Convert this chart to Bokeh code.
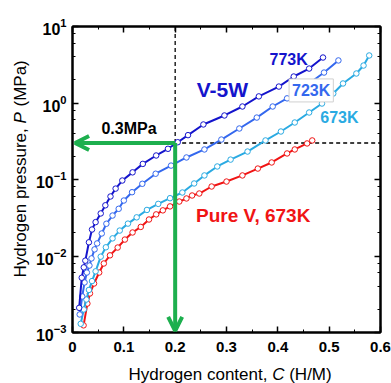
import math
from bokeh.plotting import figure
from bokeh.layouts import row, column
from bokeh.models import (LinearAxis, LogAxis, Range1d, Label, Arrow, OpenHead,
                          FixedTicker, LogTicker)
from bokeh.core.properties import value
from bokeh.embed import file_html
from bokeh.resources import INLINE

# ---------------- data ----------------
# V-5W, 773K
c773 = [0.013, 0.018, 0.022, 0.025, 0.032, 0.038, 0.045, 0.055, 0.064, 0.074, 0.084,
        0.097, 0.117, 0.137, 0.163, 0.186, 0.205, 0.225, 0.255, 0.296, 0.331, 0.363,
        0.402, 0.431, 0.461, 0.488]
p773 = [0.0021, 0.0052, 0.0071, 0.0087, 0.0151, 0.0222, 0.0277, 0.036, 0.046, 0.060, 0.076,
        0.097, 0.124, 0.160, 0.206, 0.252, 0.307, 0.38, 0.524, 0.687, 0.90, 1.22,
        1.64, 2.22, 2.82, 3.93]
# V-5W, 723K
c723 = [0.014, 0.019, 0.0235, 0.028, 0.033, 0.037, 0.043, 0.048, 0.057, 0.066, 0.078,
        0.090, 0.100, 0.116, 0.136, 0.162, 0.192, 0.222, 0.257, 0.290, 0.325, 0.359,
        0.390, 0.418, 0.453, 0.490, 0.518]
p723 = [0.00172, 0.00296, 0.00451, 0.00608, 0.0075, 0.0093, 0.0122, 0.0146, 0.0197, 0.0264, 0.0338,
        0.0414, 0.0531, 0.0682, 0.0879, 0.119, 0.152, 0.194, 0.247, 0.333, 0.464, 0.645,
        0.90, 1.15, 1.64, 2.5, 3.6]
# V-5W, 673K
c673 = [0.016, 0.022, 0.027, 0.032, 0.038, 0.045, 0.055, 0.065, 0.078, 0.092, 0.108, 0.125,
        0.145, 0.167, 0.190, 0.214, 0.237, 0.257, 0.282, 0.308, 0.341, 0.376, 0.406, 0.433,
        0.461, 0.486, 0.508, 0.527, 0.553, 0.567, 0.578]
p673 = [0.0013, 0.0020, 0.0027, 0.0036, 0.0047, 0.0063, 0.0098, 0.0130, 0.0170, 0.0215,
        0.0265, 0.0320, 0.0400, 0.0480, 0.0570, 0.0676, 0.0887, 0.113, 0.148, 0.182, 0.232,
        0.324, 0.424, 0.556, 0.751, 0.984, 1.33, 1.80, 2.43, 3.09, 4.18]
# Pure V, 673K
cV = [0.0216, 0.029, 0.034, 0.042, 0.052, 0.061, 0.073, 0.088, 0.102, 0.117, 0.133, 0.149,
      0.163, 0.176, 0.190, 0.208, 0.222, 0.233, 0.247, 0.271, 0.300, 0.331, 0.361, 0.388,
      0.418, 0.433, 0.457, 0.467]
pV = [0.00124, 0.00239, 0.00324, 0.00437, 0.00608, 0.00798, 0.0102, 0.0129, 0.0164, 0.0203,
      0.0240, 0.0300, 0.0350, 0.0395, 0.0445, 0.0515, 0.0565, 0.0618, 0.0656, 0.081, 0.094,
      0.113, 0.139, 0.167, 0.219, 0.247, 0.296, 0.324]

x_ticks = [0.0, 0.1, 0.2, 0.3, 0.4, 0.5, 0.6]
x_tick_labels = ["0", "0.1", "0.2", "0.3", "0.4", "0.5", "0.6"]
x_minor = [0.05, 0.15, 0.25, 0.35, 0.45, 0.55]

marker_C = 0.2   # hydrogen content read at 0.3 MPa
marker_P = 0.3   # MPa

C_DARK = "#1414CC"
C_MED = "#3468EE"
C_CYAN = "#2AAAE2"
C_RED = "#F01414"
C_GREEN = "#1DAF4E"

FONT = "Liberation Sans"

LEFT_W = 30
BOTTOM_H = 23

p = figure(width=391 - LEFT_W, height=383 - BOTTOM_H, x_range=Range1d(0, 0.6),
           y_range=Range1d(1e-3, 10), y_axis_type="log", output_backend="svg",
           toolbar_location=None, min_border_left=72 - LEFT_W, min_border_top=26,
           min_border_right=11, min_border_bottom=383 - BOTTOM_H - 332)
p.grid.visible = False
p.outline_line_color = "black"
p.outline_line_width = 2
p.background_fill_color = "white"
p.border_fill_color = "white"

p.xaxis.ticker = FixedTicker(ticks=x_ticks, minor_ticks=x_minor)
p.xaxis.major_label_overrides = {t: s for t, s in zip(x_ticks, x_tick_labels)}
p.yaxis.ticker = LogTicker()


def style_axis(ax, show_labels=True, standoff=6, size="15px"):
    ax.axis_line_width = 2
    ax.axis_line_color = "black"
    ax.major_tick_in = 6
    ax.major_tick_out = 0
    ax.minor_tick_in = 3
    ax.minor_tick_out = 0
    ax.major_tick_line_width = 1.5
    ax.minor_tick_line_width = 1
    ax.major_label_standoff = standoff
    ax.major_label_text_font = FONT
    ax.major_label_text_font_style = "bold"
    if show_labels:
        ax.major_label_text_font_size = size
        ax.major_label_text_color = "black"
    else:
        ax.major_label_text_font_size = "1px"
        ax.major_label_text_color = None
        ax.major_label_standoff = 0


style_axis(p.xaxis[0], True, 9, "15px")
style_axis(p.yaxis[0], True, 6, "16px")

top = LinearAxis(ticker=FixedTicker(ticks=x_ticks, minor_ticks=x_minor))
style_axis(top, False)
p.add_layout(top, "above")
right = LogAxis(ticker=LogTicker())
style_axis(right, False)
p.add_layout(right, "right")

# guide lines
p.segment(x0=[marker_C, marker_C], y0=[marker_P, marker_P],
          x1=[marker_C, p.x_range.end], y1=[p.y_range.end, marker_P],
          line_color="black", line_width=1.3, line_dash="4 3")

# curves
for cs, ps, col in [(cV, pV, C_RED), (c673, p673, C_CYAN), (c723, p723, C_MED), (c773, p773, C_DARK)]:
    p.line(cs, ps, line_color=col, line_width=2)
    p.scatter(cs, ps, marker="circle", size=5.5, fill_color="white", line_color=col, line_width=1)

# green arrows
for xe, ye in [(p.x_range.start + 0.005, marker_P), (marker_C, p.y_range.start * 1.05)]:
    p.add_layout(Arrow(end=OpenHead(line_color=C_GREEN, line_width=4, size=14),
                       x_start=marker_C, y_start=marker_P, x_end=xe, y_end=ye,
                       line_color=C_GREEN, line_width=4))


# annotations
def lab(x, y, text, color, size, **kw):
    p.add_layout(Label(x=x, y=y, text=text, text_color=color, text_font=FONT,
                       text_font_size=size, text_font_style="bold",
                       text_align="center", text_baseline="middle", **kw))


lab(0.292, 1.5, "V-5W", C_DARK, "21px")
lab(0.421, 3.7, "773K", C_DARK, "16px")
lab(0.465, 1.46, "723K", C_MED, "16px", background_fill_color="white",
    border_line_color="#d0d0d0", border_line_width=1, padding=3)
lab(0.520, 0.656, "673K", C_CYAN, "16px")
lab(0.352, 0.034, "Pure V, 673K", C_RED, "19px")
lab(0.110, 0.464, "0.3MPa", "black", "16px")


# ---- axis titles in thin companion figures (so the symbol can be italic) ----
def blank_fig(w, h):
    f = figure(width=w, height=h, x_range=Range1d(0, w), y_range=Range1d(0, h),
               output_backend="svg", toolbar_location=None, min_border=0,
               x_axis_location=None, y_axis_location=None)
    f.grid.visible = False
    f.outline_line_color = None
    f.background_fill_color = "white"
    f.border_fill_color = "white"
    return f


tstyle = dict(text_font=value(FONT), text_font_size="17px", text_color="black",
              text_baseline="middle")

bottom = blank_fig(391 - LEFT_W, BOTTOM_H)
bx = 264 - LEFT_W
bottom.text(x=[bx], y=[9], text=["Hydrogen content, "], text_align="right", **tstyle)
bottom.text(x=[bx], y=[9], text=["C"], text_align="left", text_font_style="italic", **tstyle)
bottom.text(x=[bx + 20], y=[9], text=["(H/M)"], text_align="left", **tstyle)

left = blank_fig(LEFT_W, 383)
ly = 383 - 123
left.text(x=[20], y=[ly], text=["Hydrogen pressure, "], angle=math.pi / 2,
          text_align="right", **tstyle)
left.text(x=[20], y=[ly], text=["P"], angle=math.pi / 2, text_align="left",
          text_font_style="italic", **tstyle)
left.text(x=[20], y=[ly + 17], text=["(MPa)"], angle=math.pi / 2, text_align="left", **tstyle)

layout = row(left, column(p, bottom, spacing=0), spacing=0)

open("out.html", "w").write(file_html(layout, INLINE))
